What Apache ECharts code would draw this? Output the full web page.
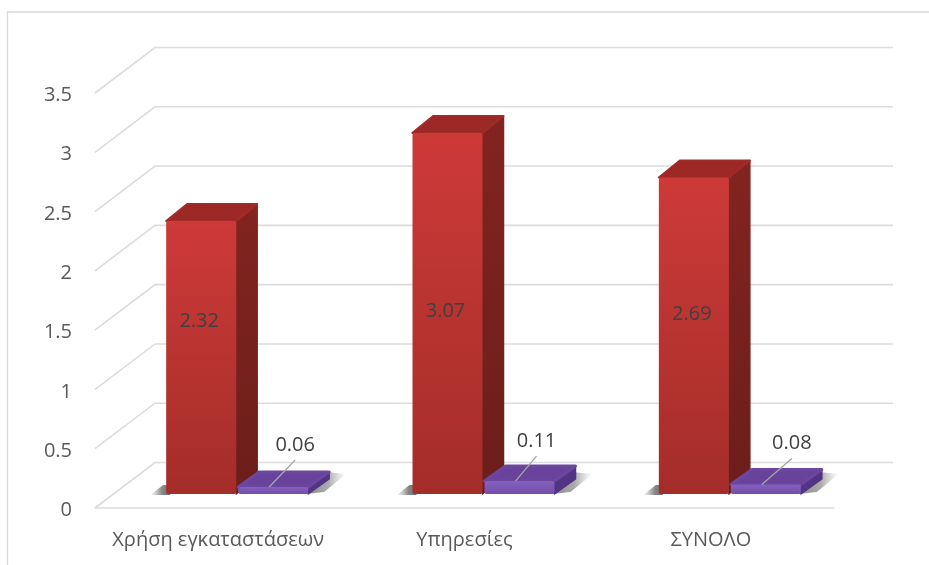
<!DOCTYPE html>
<html><head><meta charset="utf-8">
<style>html,body{margin:0;padding:0;background:#fff}#c{width:929px;height:565px;filter:blur(0.45px)}</style>
<script src="https://cdn.jsdelivr.net/npm/echarts@6/dist/echarts.min.js"></script>
</head><body><div id="c"></div>
<script>
const categories = ['Χρήση εγκαταστάσεων', 'Υπηρεσίες', 'ΣΥΝΟΛΟ'];
const redValues = [2.32, 3.07, 2.69];
const purpleValues = [0.06, 0.11, 0.08];
const gridTicks = [0, 0.5, 1, 1.5, 2, 2.5, 3, 3.5];

const FONT = '"Open Sans", sans-serif';
const TEXT = '#595959';
const WALL_DX = 60, WALL_DY = 45.5, WALL_END = 893;
const DEPTH_DX = 21, LIFT = 14, BAR_W = 70, SCALE = 0.992;
const RED_OFF = -52, PURPLE_OFF = 20;
const RED_LABEL_SHIFT = [-36, -2, -22];
const PURPLE_LABEL_SHIFT = [0, -5, 4];
const PURPLE_LABEL_DY = [0, 2, 1];

function poly(pts, fill, z2) {
  return { type: 'polygon', z2: z2 || 0, shape: { points: pts }, style: { fill: fill, lineJoin: 'round' } };
}
function faces(x, base, top, dy, front, topFill, side, strokeTop, sw) {
  const x1 = x + BAR_W, dx = DEPTH_DX;
  const t = poly([[x, top], [x + dx, top - dy], [x1 + dx, top - dy], [x1, top]], topFill, 3);
  t.style.stroke = strokeTop; t.style.lineWidth = sw;
  const s = poly([[x1, top], [x1 + dx, top - dy], [x1 + dx, base - dy], [x1, base]], side, 2);
  s.style.stroke = side; s.style.lineWidth = 1.5;
  const f = { type: 'rect', z2: 4, shape: { x: x, y: top, width: BAR_W, height: base - top, r: 2 }, style: { fill: front } };
  return [s, t, f];
}
function grad(a, b) { return new echarts.graphic.LinearGradient(0, 0, 0, 1, [{ offset: 0, color: a }, { offset: 1, color: b }]); }
function fadeH(stops) { return new echarts.graphic.LinearGradient(0, 0, 1, 0, stops); }

function wallRender(params, api) {
  const p = api.coord([0, api.value(0)]);
  const x0 = params.coordSys.x, y = p[1];
  return { type: 'polyline', shape: { points: [[x0, y], [x0 + WALL_DX, y - WALL_DY], [WALL_END, y - WALL_DY]] },
    style: { fill: null, stroke: '#dcdcdc', lineWidth: 1.6 } };
}
function redRender(params, api) {
  const i = api.value(0), v = api.value(1);
  const c = api.coord([i, v]), z = api.coord([i, 0]);
  const x = c[0] + RED_OFF, base = z[1] - LIFT, top = base - (z[1] - c[1]) * SCALE;
  const shadow = poly([[x - 16, base + 1], [x + 4, base + 1], [x + 4, base - 9], [x - 3, base - 9]],
    fadeH([{ offset: 0, color: 'rgba(130,130,130,0)' }, { offset: 0.6, color: 'rgba(105,105,105,.8)' }, { offset: 1, color: 'rgba(95,95,95,.9)' }]), 1);
  const kids = [shadow].concat(faces(x, base, top, 17, grad('#cd3a38', '#a42d29'), '#9d2927', grad('#82241f', '#6c1e1a'), '#a02b29', 2));
  kids.push({ type: 'text', z2: 6, style: { x: x + 33, y: (base + top) / 2 + RED_LABEL_SHIFT[i], text: v.toFixed(2), fill: '#404040', font: '20px ' + FONT, align: 'center', verticalAlign: 'middle' } });
  return { type: 'group', children: kids };
}
function purpleRender(params, api) {
  const i = api.value(0), v = api.value(1);
  const c = api.coord([i, v]), z = api.coord([i, 0]);
  const x = c[0] + PURPLE_OFF, base = z[1] - LIFT, top = base - (z[1] - c[1]) * SCALE;
  const x1 = x + BAR_W;
  const shadow = poly([[x1 - 2, base], [x1 + 16, base - 2], [x1 + 38, base - 20], [x1 + 18, base - 22]],
    fadeH([{ offset: 0, color: 'rgba(100,100,100,.75)' }, { offset: 0.55, color: 'rgba(115,115,115,.6)' }, { offset: 1, color: 'rgba(150,150,150,0)' }]), 1);
  const kids = [shadow].concat(faces(x, base, top, 15, grad('#8560bd', '#724dab'), '#68429b', '#523484', '#6c469f', 3));
  const lx = x + 57 + PURPLE_LABEL_SHIFT[i], ly = top - 27 + PURPLE_LABEL_DY[i];
  kids.push({ type: 'text', z2: 6, style: { x: lx, y: ly - 15, text: v.toFixed(2), fill: '#404040', font: '20px ' + FONT, align: 'center', verticalAlign: 'middle' } });
  kids.push({ type: 'line', z2: 6, shape: { x1: lx, y1: ly, x2: x + 31, y2: top }, style: { stroke: '#a6a6a6', lineWidth: 1.3 } });
  return { type: 'group', children: kids };
}

const chart = echarts.init(document.getElementById('c'), null, { renderer: 'canvas' });
chart.setOption({
  animation: false,
  backgroundColor: '#fff',
  grid: { left: 95, right: 95, top: 93, bottom: 57, containLabel: false },
  graphic: [{ type: 'polyline', silent: true, shape: { points: [[7.5, 565], [7.5, 12], [929, 12]] }, style: { fill: null, stroke: '#d9d9d9', lineWidth: 1.3 } }],
  xAxis: { type: 'category', data: categories,
    axisLine: { show: true, lineStyle: { color: '#dcdcdc', width: 1.6 } }, axisTick: { show: false },
    axisLabel: { color: TEXT, fontFamily: FONT, fontSize: 20, margin: 22, interval: 0, hideOverlap: false } },
  yAxis: { type: 'value', min: 0, max: 3.5, interval: 0.5,
    axisLine: { show: false }, axisTick: { show: false }, splitLine: { show: false },
    axisLabel: { color: TEXT, fontFamily: FONT, fontSize: 20, margin: 23, verticalAlign: 'top', lineHeight: 5, formatter: v => String(v) } },
  series: [
    { type: 'custom', name: 'grid', z: 1, silent: true, coordinateSystem: 'cartesian2d', renderItem: wallRender, data: gridTicks.map(t => [t]), encode: { y: 0 } },
    { type: 'custom', name: 'Red', z: 2, silent: true, renderItem: redRender, data: redValues.map((v, i) => [i, v]) },
    { type: 'custom', name: 'Purple', z: 3, silent: true, renderItem: purpleRender, data: purpleValues.map((v, i) => [i, v]) }
  ]
});
</script></body></html>
